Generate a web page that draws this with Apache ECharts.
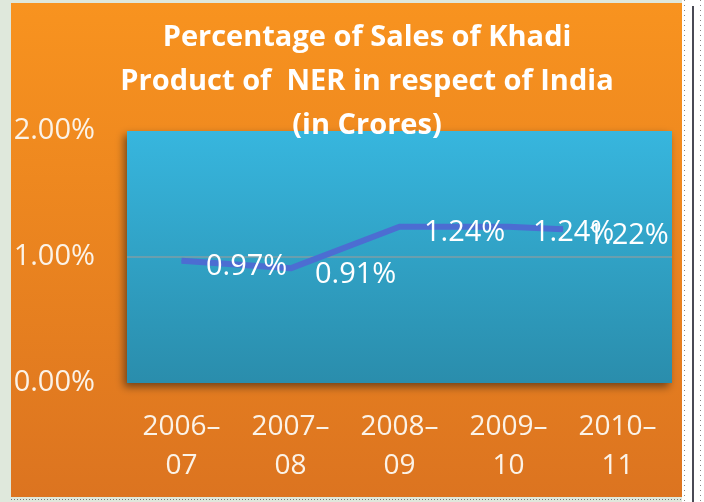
<!DOCTYPE html>
<html>
<head>
<meta charset="utf-8">
<style>html,body{margin:0;padding:0;background:#dfe8dc;}#chart{width:704px;height:502px;}</style>
<script src="https://cdn.jsdelivr.net/npm/echarts@6/dist/echarts.min.js"></script>
</head>
<body>
<div id="chart"></div>
<script>
var categories = ['2006\u2013\n07', '2007\u2013\n08', '2008\u2013\n09', '2009\u2013\n10', '2010\u2013\n11'];
var values = [0.97, 0.91, 1.24, 1.24, 1.22];
// position of each point along the category band axis (band units, as drawn in the source)
var pointPos = [0.5, 1.5, 2.5, 3.5, 4.0];
var yTicks = [0, 1, 2];
var titleText = 'Percentage of Sales of Khadi\nProduct of  NER in respect of India\n(in Crores)';

var lineData = values.map(function (v, i) { return [pointPos[i], v]; });
var font = 'Open Sans';
var chart = echarts.init(document.getElementById('chart'));
chart.setOption({
  backgroundColor: '#dfe8dc',
  animation: false,
  textStyle: { fontFamily: font },
  graphic: [
    { type: 'rect', z: -100, shape: { x: 11, y: 3, width: 671, height: 494 },
      style: { fill: new echarts.graphic.LinearGradient(0, 0, 0, 1, [
        { offset: 0, color: '#f8931f' }, { offset: 1, color: '#dc7420' }]) } },
    { type: 'rect', z: -100, shape: { x: 682, y: 0, width: 22, height: 502 }, style: { fill: '#ffffff' } },
    { type: 'line', z: -99, shape: { x1: 684.5, y1: 0, x2: 684.5, y2: 502 }, style: { stroke: '#888', lineWidth: 1, lineDash: [1, 4] } },
    { type: 'line', z: -99, shape: { x1: 693, y1: 6, x2: 693, y2: 502 }, style: { stroke: '#4a4a55', lineWidth: 2 } },
    { type: 'line', z: -99, shape: { x1: 700.5, y1: 0, x2: 700.5, y2: 502 }, style: { stroke: '#888', lineWidth: 1, lineDash: [1, 4] } },
    { type: 'line', z: -99, shape: { x1: 11, y1: 499.5, x2: 682, y2: 499.5 }, style: { stroke: '#777', lineWidth: 1, lineDash: [1, 2] } }
  ],
  title: {
    text: titleText,
    left: 362,
    top: 11,
    textAlign: 'center',
    z: 20,
    textStyle: { color: '#ffffff', fontFamily: font, fontWeight: 'bold', fontSize: 29, lineHeight: 44 }
  },
  grid: {
    left: 127, right: 32, top: 131, bottom: 119,
    show: true,
    borderWidth: 0,
    backgroundColor: new echarts.graphic.LinearGradient(0, 0, 0, 1, [
      { offset: 0, color: '#37b6de' }, { offset: 1, color: '#2a8dac' }]),
    shadowColor: 'rgba(40,30,20,0.6)', shadowBlur: 8, shadowOffsetX: -3, shadowOffsetY: 4
  },
  xAxis: [{
    type: 'category',
    data: categories,
    boundaryGap: true,
    axisLine: { show: false }, axisTick: { show: false },
    axisLabel: { color: '#fbf3e8', fontSize: 28, lineHeight: 39, margin: 25, interval: 0 }
  }, {
    type: 'value', min: 0, max: categories.length, show: false
  }],
  yAxis: {
    type: 'value', min: yTicks[0], max: yTicks[yTicks.length - 1], interval: 1,
    axisLine: { show: false }, axisTick: { show: false },
    axisLabel: { color: '#fbf3e8', fontSize: 29, margin: 32, formatter: function (v) { return v.toFixed(2) + '%'; } },
    splitLine: { show: true, lineStyle: { color: ['rgba(0,0,0,0)', '#7e9ea6', 'rgba(0,0,0,0)'], width: 1.5 } }
  },
  series: [{
    type: 'line',
    xAxisIndex: 1,
    data: lineData,
    symbol: 'circle', symbolSize: 1, showSymbol: true,
    itemStyle: { color: '#4c6dd2' },
    lineStyle: { color: '#4c6dd2', width: 6 },
    label: { show: true, position: 'right', distance: 24, offset: [0, 6], color: '#ffffff', fontSize: 29, fontFamily: font,
      formatter: function (p) { return p.value[1].toFixed(2) + '%'; } }
  }]
});
</script>
</body>
</html>
